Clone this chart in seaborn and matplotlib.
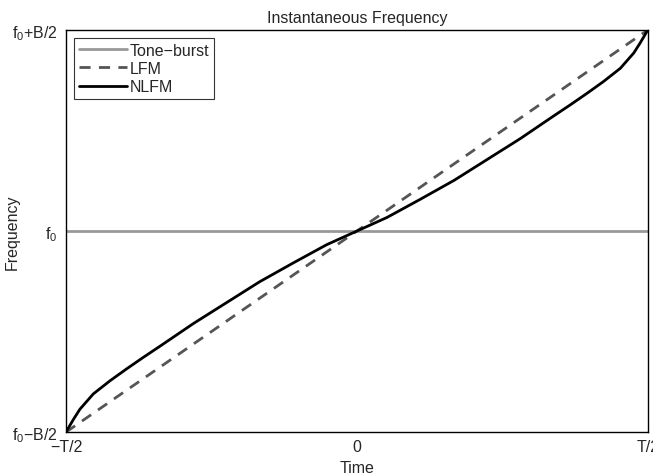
import numpy as np
import pandas as pd
import matplotlib
matplotlib.use("Agg")
import matplotlib.pyplot as plt
import seaborn as sns

# normalised time (-T/2 .. T/2) and frequency (f0-B/2 .. f0+B/2)
t_tone = [-0.5, 0.5]
f_tone = [0.0, 0.0]

t_lfm = [-0.5, 0.5]
f_lfm = [-0.5, 0.5]

t_nlfm = [-0.5, -0.487, -0.476, -0.453, -0.424, -0.396, -0.367, -0.338, -0.281, -0.224,
          -0.167, -0.109, -0.052, 0.0, 0.052, 0.109, 0.167, 0.224, 0.281, 0.338,
          0.367, 0.396, 0.424, 0.453, 0.476, 0.487, 0.5]
f_nlfm = [-0.5, -0.468, -0.443, -0.405, -0.372, -0.343, -0.314, -0.286, -0.23, -0.178,
          -0.126, -0.079, -0.034, 0.0, 0.034, 0.079, 0.126, 0.178, 0.23, 0.286,
          0.314, 0.343, 0.372, 0.405, 0.443, 0.468, 0.5]

x_ticks = [-0.5, 0.0, 0.5]
x_labels = ["\u2212T/2", "0", "T/2"]
y_ticks = [-0.5, 0.0, 0.5]
y_labels = ["f$_0$\u2212B/2", "f$_0$", "f$_0$+B/2"]

sns.set_style("white")
plt.rcParams["font.family"] = ["Liberation Sans", "DejaVu Sans"]
plt.rcParams["mathtext.fontset"] = "custom"
plt.rcParams["mathtext.rm"] = "Liberation Sans"
plt.rcParams["mathtext.it"] = "Liberation Sans"
fs = 11.5

fig = plt.figure(figsize=(6.53, 4.77), dpi=100)
ax = fig.add_axes([0.101, 0.092, 0.891, 0.843])

df_tone = pd.DataFrame({"t": t_tone, "f": f_tone})
df_lfm = pd.DataFrame({"t": t_lfm, "f": f_lfm})
df_nlfm = pd.DataFrame({"t": t_nlfm, "f": f_nlfm})

sns.lineplot(data=df_tone, x="t", y="f", ax=ax, color="#999999", lw=2, label="Tone\u2212burst", sort=False)
sns.lineplot(data=df_lfm, x="t", y="f", ax=ax, color="#555555", lw=2, ls=(0, (4, 3)), label="LFM", sort=False)
sns.lineplot(data=df_nlfm, x="t", y="f", ax=ax, color="black", lw=2, label="NLFM", sort=False)

ax.set_xlim(-0.5, 0.5)
ax.set_ylim(-0.5, 0.5)
ax.set_xticks(x_ticks)
ax.set_xticklabels(x_labels)
ax.set_yticks(y_ticks)
ax.set_yticklabels(y_labels)
ax.tick_params(direction="in", length=3, width=0.6, color="black", labelsize=fs)
ax.tick_params(axis="y", pad=6)
ax.tick_params(axis="x", pad=5)
for s in ax.spines.values():
    s.set_color("black")
    s.set_linewidth(1.0)

ax.set_xlabel("Time", fontsize=fs)
ax.xaxis.set_label_coords(0.5, -0.07)
ax.set_ylabel("Frequency", fontsize=fs)
ax.yaxis.set_label_coords(-0.08, 0.5)
ax.set_title("Instantaneous Frequency", fontsize=fs, pad=6)

leg = ax.legend(loc="upper left", fontsize=fs, frameon=True, fancybox=False,
                edgecolor="black", handlelength=3.0, handletextpad=0.2,
                borderpad=0.3, labelspacing=0.2, borderaxespad=0.5)
leg.get_frame().set_linewidth(0.8)

fig.savefig("out.png", dpi=100)
